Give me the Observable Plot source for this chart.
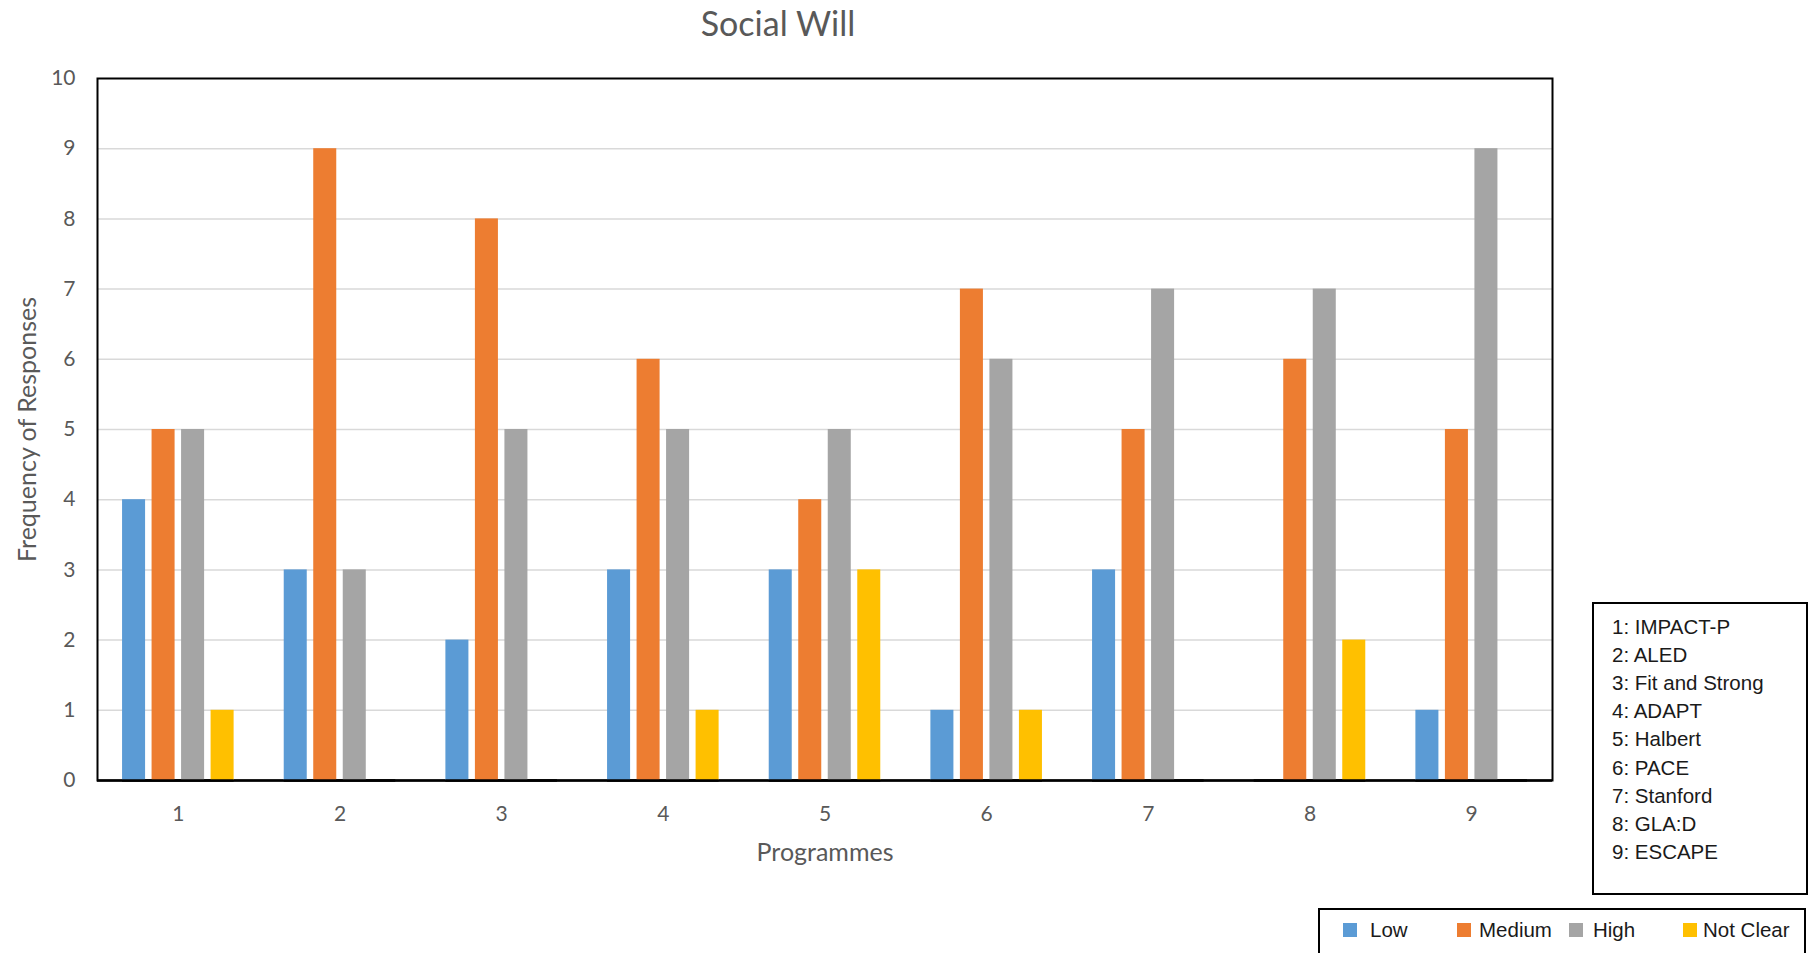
<!DOCTYPE html>
<html><head><meta charset="utf-8">
<script src="https://cdn.jsdelivr.net/npm/d3@7"></script>
<script src="https://cdn.jsdelivr.net/npm/@observablehq/plot@0.6"></script>
<style>
body{margin:0;background:#fff;width:1810px;height:953px;position:relative;overflow:hidden;font-family:Lato,sans-serif}
.layer{position:absolute;left:0;top:0}
#title{position:absolute;left:528px;width:500px;top:3px;text-align:center;font-size:34px;line-height:40px;color:#595959;font-family:Lato,sans-serif}
#names{position:absolute;left:1592px;top:602px;width:212px;height:289px;border:2px solid #000;box-sizing:content-box;font-family:"Liberation Sans",Arial,sans-serif;font-size:20.5px;color:#1a1a1a}
#names div{position:absolute;left:18px;line-height:28px;white-space:nowrap}
#keys{position:absolute;left:1318px;top:908px;width:484px;height:60px;border:2px solid #000;font-family:"Liberation Sans",Arial,sans-serif;font-size:20.5px;color:#1a1a1a}
.sw{position:absolute;width:14px;height:14px;top:13px}
.kl{position:absolute;top:6px;line-height:28px;white-space:nowrap}
</style>
</head><body>
<div id="back" class="layer"></div>
<div id="front" class="layer"></div>
<div id="title"></div>
<div id="names"></div>
<div id="keys"></div>
<script>
const titleText = "Social Will";
const xLabel = "Programmes";
const yLabel = "Frequency of Responses";
const programmes = [1, 2, 3, 4, 5, 6, 7, 8, 9];
const programmeNames = ["IMPACT-P", "ALED", "Fit and Strong", "ADAPT", "Halbert", "PACE", "Stanford", "GLA:D", "ESCAPE"];
const series = ["Low", "Medium", "High", "Not Clear"];
const low = [4, 3, 2, 3, 3, 1, 3, 0, 1];
const medium = [5, 9, 8, 6, 4, 7, 5, 6, 5];
const high = [5, 3, 5, 5, 5, 6, 7, 7, 9];
const notClear = [1, 0, 0, 1, 3, 1, 0, 2, 0];
const colors = ["#5B9BD5", "#ED7D31", "#A5A5A5", "#FFC000"];
const yTicks = [0, 1, 2, 3, 4, 5, 6, 7, 8, 9, 10];

const valuesBySeries = [low, medium, high, notClear];
const data = [];
programmes.forEach((p, i) => {
  series.forEach((s, j) => data.push({programme: p, series: s, value: valuesBySeries[j][i]}));
});

const common = {
  width: 1810,
  height: 953,
  marginLeft: 97,
  marginTop: 78,
  marginRight: 258,
  marginBottom: 173,
  style: {fontFamily: "Lato, sans-serif", fontSize: "21px", color: "#595959", background: "transparent"},
  y: {domain: [0, 10], axis: null}
};

// background layer: gridlines, frame, axes
const back = Plot.plot({
  ...common,
  x: {type: "band", domain: programmes, padding: 0, round: false, axis: null},
  marks: [
    Plot.ruleY(yTicks.slice(1, -1), {stroke: "#d9d9d9", strokeWidth: 1.5}),
    Plot.frame({stroke: "#000", strokeWidth: 2}),
    Plot.axisY({ticks: yTicks, tickSize: 0, tickPadding: 22, fontSize: 21, color: "#595959",
      label: null, tickFormat: d => String(d)}),
    Plot.axisX({anchor: "bottom", tickSize: 0, tickPadding: 26, fontSize: 21, color: "#595959", label: null}),
    Plot.text([yLabel], {frameAnchor: "left", textAnchor: "middle", rotate: -90, dx: -70, fontSize: 25, fill: "#595959"}),
    Plot.text([xLabel], {frameAnchor: "bottom", textAnchor: "middle", dy: 80, fontSize: 25, fill: "#595959"}),
    Plot.ruleY([0], {stroke: "#000", strokeWidth: 2.5})
  ]
});
document.getElementById("back").appendChild(back);

// front layer: grouped bars
const front = Plot.plot({
  ...common,
  fx: {domain: programmes, paddingInner: 0.31, paddingOuter: 0.155, round: false, axis: null, label: null},
  x: {domain: series, axis: null, paddingInner: 0.22, paddingOuter: 0, round: false},
  color: {domain: series, range: colors},
  marks: [
    Plot.barY(data, {fx: "programme", x: "series", y: "value", fill: "series"}),
    Plot.ruleY([0], {stroke: "#000", strokeWidth: 2.5})
  ]
});
document.getElementById("front").appendChild(front);

document.getElementById("title").textContent = titleText;

const names = document.getElementById("names");
programmeNames.forEach((n, i) => {
  const d = document.createElement("div");
  d.style.top = (9 + i * 28.1) + "px";
  d.textContent = programmes[i] + ": " + n;
  names.appendChild(d);
});

const keys = document.getElementById("keys");
const swX = [23, 137, 249, 363];
const lbX = [50, 159, 273, 383];
series.forEach((s, i) => {
  const sw = document.createElement("div");
  sw.className = "sw";
  sw.style.left = swX[i] + "px";
  sw.style.background = colors[i];
  keys.appendChild(sw);
  const l = document.createElement("div");
  l.className = "kl";
  l.style.left = lbX[i] + "px";
  l.textContent = s;
  keys.appendChild(l);
});
</script>
</body></html>
